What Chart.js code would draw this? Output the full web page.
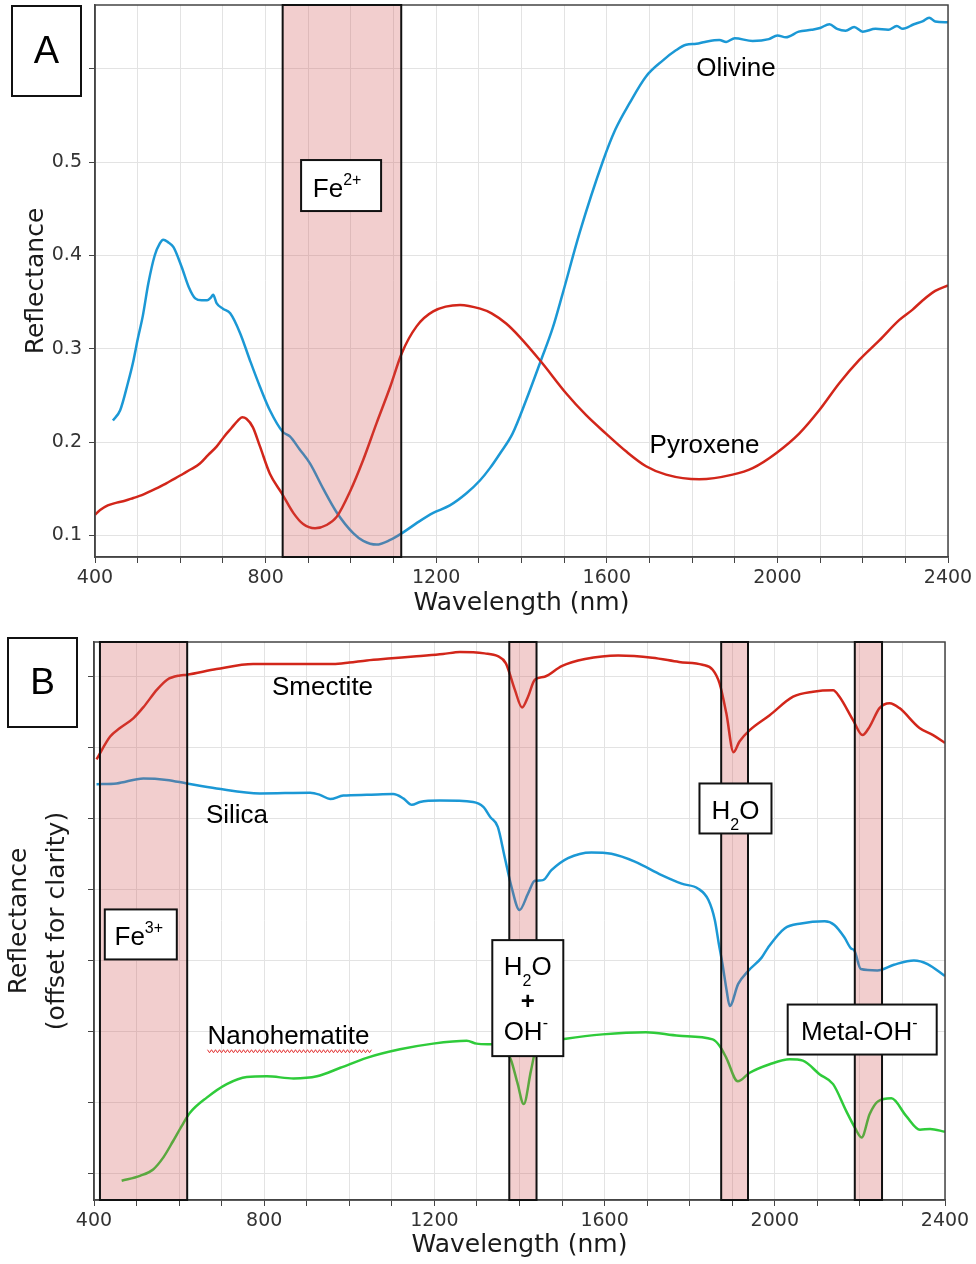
<!DOCTYPE html>
<html>
<head>
<meta charset="utf-8">
<title>Reflectance spectra</title>
<script src="https://cdn.jsdelivr.net/npm/chart.js@4.4.1/dist/chart.umd.min.js"></script>
<style>
  html, body { margin: 0; padding: 0; background: #fff; }
  #page { position: relative; width: 976px; height: 1264px; overflow: hidden; }
  canvas { position: absolute; left: 0; }
  #chartA { top: 0; }
  #chartB { top: 622px; }
</style>
</head>
<body>
<div id="page">
  <canvas id="chartA" width="976" height="622"></canvas>
  <canvas id="chartB" width="976" height="642"></canvas>
</div>
<script>
// ---- Panel A: olivine and pyroxene spectra (reflectance) ----
const olivineNm = [442, 459, 477, 489, 500, 512, 525, 540, 552, 560, 572, 584, 603, 620, 635, 650, 663, 672, 677, 685,
  700, 717, 740, 763, 787, 810, 840, 857, 880, 904, 935, 966, 1006, 1029, 1060, 1092, 1119, 1154, 1193, 1232,
  1271, 1303, 1326, 1350, 1379, 1411, 1446, 1473, 1497, 1536, 1590, 1620, 1653, 1692, 1731, 1762, 1786, 1810, 1830, 1864,
  1880, 1900, 1942, 1980, 2000, 2020, 2050, 2080, 2100, 2122, 2140, 2160, 2180, 2200, 2230, 2260, 2280, 2294, 2320, 2340,
  2356, 2370, 2400];
const olivineR = [0.223, 0.234, 0.263, 0.285, 0.310, 0.335, 0.370, 0.400, 0.413, 0.417, 0.414, 0.409, 0.388, 0.366, 0.354, 0.352, 0.352, 0.355, 0.358, 0.349,
  0.343, 0.338, 0.317, 0.288, 0.259, 0.234, 0.211, 0.206, 0.192, 0.177, 0.150, 0.125, 0.102, 0.094, 0.090, 0.095, 0.102, 0.113, 0.124, 0.132,
  0.145, 0.159, 0.172, 0.188, 0.209, 0.245, 0.288, 0.322, 0.360, 0.424, 0.500, 0.535, 0.563, 0.592, 0.609, 0.620, 0.626, 0.627, 0.629, 0.631,
  0.629, 0.633, 0.630, 0.632, 0.636, 0.634, 0.640, 0.642, 0.644, 0.648, 0.643, 0.641, 0.645, 0.640, 0.643, 0.642, 0.646, 0.643, 0.648, 0.651,
  0.655, 0.651, 0.650];

const pyroxeneNm = [400, 412, 430, 451, 470, 490, 510, 529, 548, 568, 588, 607, 626, 646, 665, 685, 703, 720, 735, 745,
  755, 770, 787, 810, 838, 865, 888, 916, 943, 967, 998, 1029, 1060, 1092, 1119, 1154, 1193, 1256, 1303, 1330,
  1364, 1395, 1446, 1505, 1551, 1598, 1645, 1692, 1739, 1817, 1895, 1942, 1997, 2051, 2098, 2145, 2192, 2239, 2286, 2317,
  2341, 2370, 2400];
const pyroxeneR = [0.122, 0.127, 0.132, 0.135, 0.137, 0.140, 0.143, 0.147, 0.151, 0.156, 0.161, 0.166, 0.171, 0.177, 0.186, 0.195, 0.206, 0.215, 0.223, 0.2265,
  0.225, 0.216, 0.195, 0.166, 0.145, 0.124, 0.112, 0.1075, 0.111, 0.120, 0.147, 0.181, 0.220, 0.259, 0.295, 0.324, 0.340, 0.347, 0.343, 0.338,
  0.327, 0.313, 0.286, 0.252, 0.229, 0.209, 0.190, 0.174, 0.165, 0.160, 0.165, 0.172, 0.188, 0.209, 0.234, 0.263, 0.288, 0.309, 0.331, 0.342,
  0.352, 0.362, 0.368];

// ---- Panel B: smectite, silica, nanohematite (offset units) ----
const smectiteNm = [406, 438, 461, 493, 517, 548, 572, 602, 618, 688, 774, 870, 962, 1000, 1041, 1100, 1158, 1220, 1260, 1318,
  1349, 1368, 1389, 1406, 1420, 1436, 1459, 1499, 1554, 1632, 1712, 1775, 1830, 1854, 1870, 1886, 1903, 1917, 1941, 1988,
  2043, 2090, 2137, 2152, 2184, 2206, 2223, 2246, 2270, 2293, 2340, 2372, 2400];
const smectiteR = [5.83, 6.15, 6.27, 6.41, 6.57, 6.81, 6.95, 7.01, 7.02, 7.10, 7.17, 7.17, 7.17, 7.19, 7.22, 7.25, 7.28, 7.31, 7.34, 7.32,
  7.28, 7.18, 6.81, 6.56, 6.71, 6.95, 6.99, 7.14, 7.24, 7.29, 7.26, 7.20, 7.16, 7.09, 6.90, 6.48, 5.93, 6.08, 6.24, 6.45,
  6.71, 6.78, 6.80, 6.71, 6.38, 6.17, 6.29, 6.55, 6.62, 6.55, 6.27, 6.17, 6.06];

const silicaNm = [406, 453, 516, 571, 618, 688, 790, 908, 931, 955, 986, 1041, 1103, 1127, 1147, 1166, 1213, 1291, 1315, 1331,
  1349, 1365, 1381, 1400, 1420, 1436, 1455, 1475, 1514, 1569, 1616, 1671, 1734, 1781, 1820, 1844, 1859, 1868, 1877, 1887,
  1894, 1914, 1937, 1969, 1984, 2023, 2062, 2117, 2140, 2163, 2179, 2187, 2202, 2241, 2280, 2327, 2359, 2400];
const silicaR = [5.48, 5.49, 5.56, 5.54, 5.49, 5.42, 5.35, 5.36, 5.33, 5.27, 5.32, 5.33, 5.34, 5.28, 5.19, 5.23, 5.25, 5.23, 5.16, 5.02,
  4.88, 4.46, 4.04, 3.71, 3.94, 4.12, 4.13, 4.27, 4.44, 4.52, 4.50, 4.39, 4.20, 4.08, 4.01, 3.85, 3.57, 3.25, 2.95, 2.57,
  2.36, 2.67, 2.85, 3.04, 3.18, 3.45, 3.52, 3.55, 3.50, 3.33, 3.17, 3.14, 2.88, 2.86, 2.94, 3.00, 2.95, 2.78];

const hematiteNm = [465, 508, 539, 563, 586, 606, 626, 665, 712, 759, 806, 869, 924, 979, 1041, 1119, 1197, 1276, 1299, 1331,
  1360, 1380, 1395, 1410, 1427, 1440, 1470, 1509, 1595, 1697, 1775, 1854, 1870, 1886, 1913, 1941, 1988, 2035, 2066, 2105,
  2137, 2168, 2188, 2204, 2223, 2243, 2274, 2309, 2341, 2365, 2400];
const hematiteR = [-0.10, -0.03, 0.06, 0.23, 0.46, 0.67, 0.86, 1.07, 1.26, 1.36, 1.37, 1.34, 1.37, 1.49, 1.63, 1.75, 1.83, 1.87, 1.83, 1.82,
  1.80, 1.60, 1.28, 0.98, 1.45, 1.78, 1.86, 1.90, 1.96, 1.99, 1.94, 1.89, 1.80, 1.63, 1.30, 1.42, 1.54, 1.61, 1.59, 1.40,
  1.26, 0.88, 0.65, 0.51, 0.84, 1.02, 1.06, 0.81, 0.62, 0.63, 0.59];

// ticks
const xTicks = [400, 500, 600, 700, 800, 900, 1000, 1100, 1200, 1300, 1400, 1500, 1600, 1700, 1800, 1900, 2000, 2100, 2200, 2300, 2400];
const yTicksA = [0.1, 0.2, 0.3, 0.4, 0.5, 0.6];
const yTicksB = [0, 1, 2, 3, 4, 5, 6, 7];

// absorption bands (nm)
const bandsA = [[840, 1118]];
const bandsB = [[414, 619], [1376, 1440], [1874, 1937], [2188, 2252]];

const RED = '#d2261a';
const BLUE = '#1b98d5';
const GREEN = '#2fcb3a';
const AXIS_FONT = '"DejaVu Sans", sans-serif';
const LABEL_FONT = '"Liberation Sans", Arial, sans-serif';

// text labels, placed in data units (nm, reflectance)
const notesA = [
  {nm: 977, r: 0.475, w: 80, h: 51, dx: -4, lines: [{dy: 11, parts: [['Fe'], ['2+', 'sup']]}]},
  {nm: 1903, r: 0.6025, lines: [{dy: 9.5, parts: [['Olivine']]}]},
  {nm: 1829, r: 0.1987, lines: [{dy: 9.5, parts: [['Pyroxene']]}]}
];
const notesB = [
  {nm: 937, r: 6.87, lines: [{dy: 9.5, parts: [['Smectite']]}]},
  {nm: 736, r: 5.07, lines: [{dy: 9.5, parts: [['Silica']]}]},
  {nm: 857, r: 1.955, squiggle: true, lines: [{dy: 9.5, parts: [['Nanohematite']]}]},
  {nm: 510, r: 3.366, w: 72, h: 50, dx: -2, lines: [{dy: 10.7, parts: [['Fe'], ['3+', 'sup']]}]},
  {nm: 1907.6, r: 5.138, w: 72, h: 50, lines: [{dy: 10.8, parts: [['H'], ['2', 'sub'], ['O']]}]},
  {nm: 1419.5, r: 2.47, w: 71, h: 116, lines: [
    {dy: -22.9, parts: [['H'], ['2', 'sub'], ['O']]},
    {dy: 10.6, parts: [['+', 'bold']]},
    {dy: 42.1, dx: -2, parts: [['OH'], ['-', 'sup']]}
  ]},
  {nm: 2205.4, r: 2.028, w: 149, h: 50, dx: -3, lines: [{dy: 10.7, parts: [['Metal-OH'], ['-', 'sup']]}]}
];

function fontFor(kind) {
  if (kind === 'sup' || kind === 'sub') return '16px ' + LABEL_FONT;
  if (kind === 'bold') return 'bold 24px ' + LABEL_FONT;
  return '26px ' + LABEL_FONT;
}

// draws text made of normal / superscript / subscript runs, centred on cx
function drawRich(ctx, cx, y, parts) {
  const widths = parts.map(p => { ctx.font = fontFor(p[1]); return ctx.measureText(p[0]).width; });
  const total = widths.reduce((a, b) => a + b, 0);
  let x = cx - total / 2;
  parts.forEach((p, i) => {
    ctx.font = fontFor(p[1]);
    let yy = y;
    if (p[1] === 'sup') yy -= 12;
    if (p[1] === 'sub') yy += 11;
    ctx.fillText(p[0], x, yy);
    x += widths[i];
  });
  return {left: cx - total / 2, right: cx + total / 2};
}

function overlay(bands, notes, letter) {
  return {
    id: 'overlay',
    afterDatasetsDraw(chart) {
      const ctx = chart.ctx;
      const a = chart.chartArea;
      const xs = chart.scales.x, ys = chart.scales.y;
      ctx.save();
      // plot frame (top and right spines too)
      ctx.strokeStyle = '#444';
      ctx.lineWidth = 1.5;
      ctx.strokeRect(a.left, a.top, a.right - a.left, a.bottom - a.top);

      // shaded absorption bands
      bands.forEach(b => {
        const x0 = xs.getPixelForValue(b[0]);
        const x1 = xs.getPixelForValue(b[1]);
        ctx.fillStyle = 'rgba(210, 80, 80, 0.28)';
        ctx.fillRect(x0, a.top, x1 - x0, a.bottom - a.top);
        ctx.strokeStyle = '#111';
        ctx.lineWidth = 2;
        ctx.strokeRect(x0, a.top, x1 - x0, a.bottom - a.top);
      });

      // labels
      ctx.textAlign = 'left';
      ctx.textBaseline = 'alphabetic';
      notes.forEach(n => {
        const cx = xs.getPixelForValue(n.nm);
        const cy = ys.getPixelForValue(n.r);
        if (n.w) {
          ctx.fillStyle = '#fff';
          ctx.fillRect(cx - n.w / 2, cy - n.h / 2, n.w, n.h);
          ctx.strokeStyle = '#111';
          ctx.lineWidth = 2;
          ctx.strokeRect(cx - n.w / 2, cy - n.h / 2, n.w, n.h);
        }
        ctx.fillStyle = '#000';
        n.lines.forEach(l => {
          const ext = drawRich(ctx, cx + (n.dx || 0) + (l.dx || 0), cy + l.dy, l.parts);
          if (n.squiggle) {
            // spell-check style wavy underline
            const yb = cy + l.dy + 7;
            ctx.beginPath();
            ctx.strokeStyle = '#e23030';
            ctx.lineWidth = 1;
            let up = true;
            for (let x = ext.left; x <= ext.right + 4; x += 2) {
              const yy = yb + (up ? -1.5 : 1.5);
              if (x === ext.left) ctx.moveTo(x, yy); else ctx.lineTo(x, yy);
              up = !up;
            }
            ctx.stroke();
            ctx.fillStyle = '#000';
          }
        });
      });

      // panel letter
      ctx.fillStyle = '#fff';
      ctx.fillRect(letter.x, letter.y, letter.w, letter.h);
      ctx.strokeStyle = '#111';
      ctx.lineWidth = 2;
      ctx.strokeRect(letter.x, letter.y, letter.w, letter.h);
      ctx.fillStyle = '#000';
      ctx.font = letter.size + 'px ' + LABEL_FONT;
      ctx.textAlign = 'center';
      ctx.fillText(letter.text, letter.x + letter.w / 2, letter.y + letter.h / 2 + letter.dy);
      ctx.restore();
    }
  };
}

function series(nm, r, color) {
  return {
    data: nm.map((x, i) => ({x: x, y: r[i]})),
    borderColor: color,
    borderWidth: 2.5,
    pointRadius: 0,
    fill: false,
    cubicInterpolationMode: 'monotone',
    borderJoinStyle: 'round'
  };
}

function xAxis(height) {
  return {
    type: 'linear',
    min: 400,
    max: 2400,
    afterBuildTicks: s => { s.ticks = xTicks.map(v => ({value: v})); },
    afterFit: s => { s.height = height; s.paddingLeft = 0; s.paddingRight = 0; },
    ticks: {
      autoSkip: false,
      maxRotation: 0,
      padding: 4,
      color: '#333',
      font: {family: AXIS_FONT, size: 19},
      callback: v => (v % 400 === 0 ? String(v) : '')
    },
    grid: {color: '#e3e3e3', lineWidth: 1, tickLength: 6, tickColor: '#444'},
    border: {color: '#444', width: 1.5},
    title: {display: true, text: 'Wavelength (nm)', color: '#1a1a1a',
      font: {family: AXIS_FONT, size: 25}, padding: {top: 0, bottom: 4}}
  };
}

function yAxis(min, max, ticks, width, fmt, title, titleFont, titlePad) {
  return {
    type: 'linear',
    min: min,
    max: max,
    afterBuildTicks: s => { s.ticks = ticks.map(v => ({value: v})); },
    afterFit: s => { s.width = width; s.paddingTop = 0; s.paddingBottom = 0; },
    ticks: {
      autoSkip: false,
      padding: 7,
      color: '#333',
      font: {family: AXIS_FONT, size: 19},
      callback: fmt
    },
    grid: {color: '#e3e3e3', lineWidth: 1, tickLength: 6, tickColor: '#444'},
    border: {color: '#444', width: 1.5},
    title: {display: true, text: title, color: '#1a1a1a', font: titleFont, padding: {top: titlePad, bottom: 0}}
  };
}

function baseOptions(padding, scales) {
  return {
    responsive: false,
    animation: false,
    devicePixelRatio: 1,
    events: [],
    layout: {padding: padding},
    plugins: {legend: {display: false}, tooltip: {enabled: false}},
    scales: scales
  };
}

new Chart(document.getElementById('chartA'), {
  type: 'line',
  data: {datasets: [series(pyroxeneNm, pyroxeneR, RED), series(olivineNm, olivineR, BLUE)]},
  options: baseOptions({top: 5, right: 28, left: 0, bottom: 0}, {
    x: xAxis(65),
    y: yAxis(0.0767, 0.6686, yTicksA, 95, v => v.toFixed(1), 'Reflectance',
      {family: AXIS_FONT, size: 25}, 21)
  }),
  plugins: [overlay(bandsA, notesA, {text: 'A', x: 12, y: 6, w: 69, h: 90, size: 38, dy: 12.3})]
});

new Chart(document.getElementById('chartB'), {
  type: 'line',
  data: {datasets: [series(smectiteNm, smectiteR, RED), series(silicaNm, silicaR, BLUE), series(hematiteNm, hematiteR, GREEN)]},
  options: baseOptions({top: 20, right: 31, left: 0, bottom: 0}, {
    x: xAxis(64),
    y: yAxis(-0.37, 7.48, yTicksB, 94, () => '', ['Reflectance', '(offset for clarity)'],
      {family: AXIS_FONT, size: 25, lineHeight: 1.5}, 1)
  }),
  plugins: [overlay(bandsB, notesB, {text: 'B', x: 8, y: 16, w: 69, h: 89, size: 37, dy: 11})]
});
</script>
</body>
</html>
